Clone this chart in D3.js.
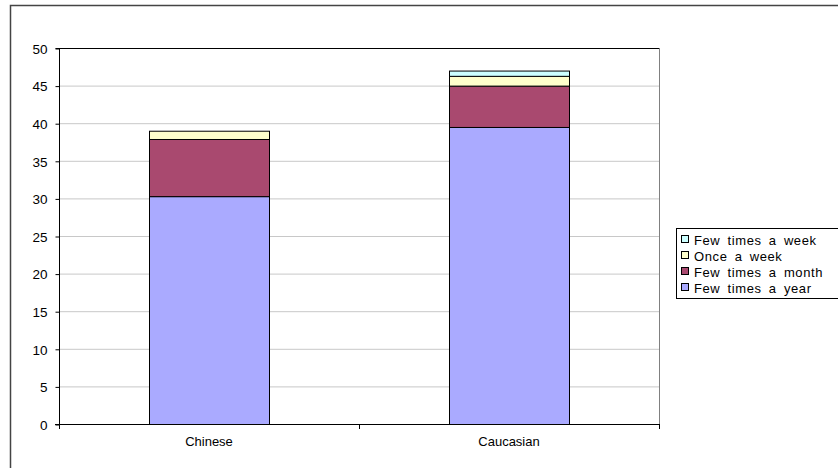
<!DOCTYPE html>
<html><head><meta charset="utf-8">
<script src="https://cdn.jsdelivr.net/npm/d3@7"></script>
<style>body{margin:0;background:#fff}svg{display:block}text{font-family:"Liberation Sans",Arial,sans-serif;fill:#000}</style>
</head><body><svg id="c" width="838" height="468"></svg>
<script>
const categories = ["Chinese", "Caucasian"];
const seriesNames = ["Few times a year", "Few times a month", "Once a week", "Few times a week"];
const fewTimesAYear = [30.3, 39.5];
const fewTimesAMonth = [7.6, 5.5];
const onceAWeek = [1.1, 1.3];
const fewTimesAWeek = [0, 0.7];
const yTicks = [0, 5, 10, 15, 20, 25, 30, 35, 40, 45, 50];
const colors = ["#AAAAFF", "#A9496F", "#FFFFCC", "#CCFFFF"];

const svg = d3.select("#c");
svg.append("rect").attr("x",10.5).attr("y",5.5).attr("width",900).attr("height",500)
  .attr("fill","#fff").attr("stroke","#444").attr("stroke-width",1.5);

const L=59, R=659, T=48, B=424;
const x = d3.scaleBand().domain(categories).range([L,R]).paddingInner(0.6).paddingOuter(0.3);
const y = d3.scaleLinear().domain([0,50]).range([B,T]);

svg.append("g").selectAll("line").data(yTicks.filter(d=>d>0&&d<50)).join("line")
  .attr("x1",L).attr("x2",R).attr("y1",d=>y(d)+0.5).attr("y2",d=>y(d)+0.5)
  .attr("stroke","#C8C8C8").attr("stroke-width",1);
svg.append("line").attr("x1",L).attr("x2",R+0.5).attr("y1",T+0.5).attr("y2",T+0.5).attr("stroke","#000");
svg.append("line").attr("x1",R+0.5).attr("x2",R+0.5).attr("y1",T).attr("y2",B).attr("stroke","#808080");

const rows = categories.map((c,i)=>({cat:c,
  "Few times a year":fewTimesAYear[i],"Few times a month":fewTimesAMonth[i],
  "Once a week":onceAWeek[i],"Few times a week":fewTimesAWeek[i]}));
const stacked = d3.stack().keys(seriesNames)(rows);
svg.append("g").selectAll("g").data(stacked).join("g")
  .attr("fill",(d,i)=>colors[i])
  .selectAll("rect").data(d=>d.filter(p=>p[1]-p[0]>0)).join("rect")
  .attr("x",d=>Math.round(x(d.data.cat))+0.5)
  .attr("y",d=>y(d[1])+0.5)
  .attr("width",Math.round(x.bandwidth()))
  .attr("height",d=>y(d[0])-y(d[1]))
  .attr("stroke","#000").attr("stroke-width",1);

const ya = d3.axisLeft(y).tickValues(yTicks).tickSize(4).tickPadding(8);
const gy = svg.append("g").attr("transform",`translate(${L+0.5},0.5)`).call(ya);
gy.select(".domain").attr("stroke","#000").attr("d",`M-4,${T}H0V${B}H-4`);
gy.selectAll("line").attr("stroke","#000");
gy.selectAll("text").attr("font-size",13.5).attr("dy","0.35em").style("font-family","Liberation Sans, Arial");

svg.append("line").attr("x1",L-4).attr("x2",R+0.5).attr("y1",B+0.5).attr("y2",B+0.5).attr("stroke","#000");
const bounds=[L, L+x.step(), R];
svg.append("g").selectAll("line").data(bounds).join("line")
  .attr("x1",d=>d+0.5).attr("x2",d=>d+0.5).attr("y1",B).attr("y2",B+5).attr("stroke","#000");
svg.append("g").selectAll("text").data(categories).join("text")
  .attr("x",d=>x(d)+x.bandwidth()/2).attr("y",446).attr("text-anchor","middle")
  .attr("font-size",13).text(d=>d);

const lg = svg.append("g");
lg.append("rect").attr("x",676.5).attr("y",228.5).attr("width",200).attr("height",70)
  .attr("fill","#fff").attr("stroke","#000");
const legendOrder = seriesNames.slice().reverse();
legendOrder.forEach((s,i)=>{
  const yy = 240 + i*16;
  lg.append("rect").attr("x",681.5).attr("y",yy-4.5).attr("width",7).attr("height",7)
    .attr("fill",colors[seriesNames.indexOf(s)]).attr("stroke","#000");
  lg.append("text").attr("x",694).attr("y",yy).attr("dy","0.35em").attr("font-size",13)
    .attr("letter-spacing",0.6).attr("word-spacing",3).text(s);
});
</script></body></html>
